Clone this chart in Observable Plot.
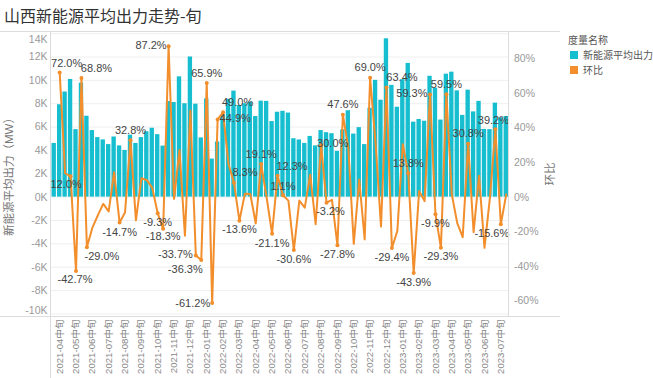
<!DOCTYPE html>
<html><head><meta charset="utf-8">
<script src="https://cdn.jsdelivr.net/npm/d3@7"></script>
<script src="https://cdn.jsdelivr.net/npm/@observablehq/plot@0.6"></script>
<style>
body{margin:0;background:#fff;}
#wrap{position:relative;width:653px;height:378px;overflow:hidden;font-family:"Liberation Sans","Noto Sans CJK SC",sans-serif;}
#chart{position:absolute;left:0;top:0;}
#over{position:absolute;left:0;top:0;pointer-events:none;}
#title{position:absolute;left:4px;top:3px;font-size:16px;color:#333;font-family:"Noto Sans CJK SC",sans-serif;white-space:nowrap;}
#legend{position:absolute;left:568px;top:33px;font-family:"Noto Sans CJK SC",sans-serif;font-size:10px;color:#555;line-height:14px;}
#legend .it{display:flex;align-items:center;margin-top:1px;}
#legend .sw{width:8px;height:8px;margin:0 5px 0 2px;}
</style></head><body>
<div id="wrap">
<div id="chart"></div>
<svg id="over" width="653" height="378"></svg>
<div id="title">山西新能源平均出力走势-旬</div>
<div id="legend"></div>
</div>
<script>
const months = ["2021-04","2021-05","2021-06","2021-07","2021-08","2021-09","2021-10","2021-11","2021-12",
  "2022-01","2022-02","2022-03","2022-04","2022-05","2022-06","2022-07","2022-08","2022-09","2022-10","2022-11","2022-12",
  "2023-01","2023-02","2023-03","2023-04","2023-05","2023-06","2023-07"];
const dekads = ["上旬","中旬","下旬"];
// 新能源平均出力 (MW)
const output = [4600,7910,9000,10080,5780,9760,6930,5700,5100,4900,4500,5150,4390,4000,5310,4600,5100,5600,5900,5350,4370,
  8180,8100,10300,8000,12000,7960,5070,8410,3260,4720,7030,8380,9080,7850,8000,8140,6900,8220,8200,6470,7270,7350,7200,5000,
  4900,4600,5200,4390,5700,5520,5430,3920,5760,7400,5400,5950,4500,7610,10000,8300,13560,9570,7700,10060,11450,6420,6650,6500,
  10350,9330,6600,10530,10700,9100,7000,9160,7300,8200,5800,5780,8050,6790,6900];
// 环比 (%)
const huanbi = [null,72.0,13.8,12.0,-42.7,68.8,-29.0,-17.7,-10.5,-3.9,-8.2,14.4,-14.7,-8.9,32.8,-13.4,10.9,9.8,5.4,-9.3,-18.3,
  87.2,-1.0,27.2,-22.3,50.0,-33.7,-36.3,65.9,-61.2,44.9,49.0,19.2,8.3,-13.6,1.9,1.8,-15.2,19.1,-0.2,-21.1,12.3,1.1,-2.0,-30.6,
  -2.0,-6.1,13.0,-15.6,30.0,-3.2,-1.6,-27.8,47.6,28.5,-27.0,10.2,-24.4,69.0,31.4,-17.0,63.4,-29.4,-19.5,30.6,13.8,-43.9,3.6,-2.3,
  59.3,-9.9,-29.3,59.5,1.6,-15.0,-23.1,30.8,-20.3,12.3,-29.3,-0.3,39.2,-15.6,1.6];
const labeled = [1,3,4,5,6,12,14,19,20,21,26,27,28,29,30,31,33,34,38,40,41,42,44,49,50,52,53,58,61,62,65,66,69,70,71,72,76,81,82];
const yTicks = [-10000,-8000,-6000,-4000,-2000,0,2000,4000,6000,8000,10000,12000,14000];
const pctTicks = [-60,-40,-20,0,20,40,60,80];
const seriesNames = ["新能源平均出力","环比"];
const colors = ["#17becf","#f28e2b"];

// label placement (style only): [anchor, dx, dy]
const place = {1:["middle",7,-9.5],3:["middle",-4.5,8],4:["middle",-1,8.5],5:["middle",15,-10],6:["middle",15,9],
  12:["middle",0,9.5],14:["middle",0,-10],19:["middle",0,9.7],20:["middle",0,8],21:["end",-2,-1],26:["end",-3,-1],
  27:["middle",-16,9.5],28:["middle",0,-10],29:["end",-2,0],30:["start",2,-1],31:["middle",14.5,-10],33:["middle",11,-10],
  34:["middle",0,9],38:["middle",0,-10],40:["middle",0,9.5],41:["middle",14.5,-9.5],42:["middle",0,-9],44:["middle",0,9.5],
  49:["start",-4,-1.5],50:["middle",4,9],52:["middle",0,9],53:["middle",0,-10],58:["middle",0,-10],61:["middle",15.5,-9.5],
  62:["middle",0,9],65:["middle",0,-10],66:["middle",0,9],69:["end",-2.5,-1],70:["middle",0,9],71:["middle",0,9],
  72:["middle",0,-10],76:["middle",0,-10],81:["middle",-2,-9],82:["middle",-9,9]};

const periods = months.flatMap(m => dekads.map(d => m + d));
const R = 148.2; // MW per 1% so that both axes share the zero line
const data = periods.map((p, i) => ({period: p, output: output[i], hb: huanbi[i], i}));
const lineData = data.filter(d => d.hb != null);
const font = "'Liberation Sans','Noto Sans CJK SC',sans-serif";
const axisCommon = {tickSize: 0, fontSize: 10.5, fill: "#999", label: null};

const labelMarks = labeled.map(i => {
  const [anchor, dx, dy] = place[i];
  return Plot.text([data[i]], {x: "period", y: d => d.hb * R, text: d => d.hb.toFixed(1) + "%",
    textAnchor: anchor, dx, dy, fontSize: 11, fill: "#444"});
});

const chart = Plot.plot({
  width: 653, height: 378,
  marginLeft: 51, marginRight: 144.5, marginTop: 31.5, marginBottom: 62,
  style: {fontFamily: font, background: "transparent"},
  x: {type: "band", domain: periods, paddingInner: 0.2, paddingOuter: 0.1},
  y: {domain: [-10220, 14140]},
  marks: [
    Plot.gridY({ticks: yTicks, stroke: "#efefef", strokeOpacity: 1}),
    Plot.barY(data, {x: "period", y: "output", fill: colors[0]}),
    Plot.line(lineData, {x: "period", y: d => d.hb * R, stroke: colors[1], strokeWidth: 2}),
    Plot.dot(labeled.map(i => data[i]), {x: "period", y: d => d.hb * R, r: 2, fill: colors[1]}),
    ...labelMarks,
    Plot.axisY({...axisCommon, ticks: yTicks.slice(1, -1), tickFormat: d => d / 1000 + "K", tickPadding: 4}),
    Plot.axisY({...axisCommon, ticks: [14000], tickFormat: d => d / 1000 + "K", tickPadding: 4, dy: 5.5}),
    Plot.axisY({...axisCommon, ticks: [-10000], tickFormat: d => d / 1000 + "K", tickPadding: 4, dy: -3.4}),
    Plot.axisY({...axisCommon, anchor: "right", ticks: pctTicks.map(p => p * R), tickFormat: d => Math.round(d / R) + "%", tickPadding: 5}),
    Plot.axisX({...axisCommon, ticks: periods.filter(p => p.endsWith("中旬")), tickRotate: -90, tickPadding: 3, fontSize: 9.6, fill: "#888"})
  ]
});
document.getElementById("chart").appendChild(chart);

// frame lines and axis titles
const over = d3.select("#over");
const lc = "#dcdcdc";
over.append("line").attr("x1",0).attr("x2",560).attr("y1",31.5).attr("y2",31.5).attr("stroke",lc);
over.append("line").attr("x1",0).attr("x2",560).attr("y1",316.5).attr("y2",316.5).attr("stroke",lc);
over.append("line").attr("x1",50.5).attr("x2",50.5).attr("y1",31.5).attr("y2",378).attr("stroke",lc);
over.append("line").attr("x1",508.5).attr("x2",508.5).attr("y1",31.5).attr("y2",316.5).attr("stroke",lc);
over.append("text").attr("transform","translate(13,174) rotate(-90)").attr("text-anchor","middle")
  .attr("font-family",font).attr("font-size",11.5).attr("fill","#777").text("新能源平均出力（MW）");
over.append("text").attr("transform","translate(554,174) rotate(-90)").attr("text-anchor","middle")
  .attr("font-family",font).attr("font-size",11.5).attr("fill","#777").text("环比");

const lg = d3.select("#legend");
lg.append("div").text("度量名称");
seriesNames.forEach((n, k) => {
  const it = lg.append("div").attr("class","it");
  it.append("div").attr("class","sw").style("background", colors[k]);
  it.append("span").text(n);
});
</script>
</body></html>
